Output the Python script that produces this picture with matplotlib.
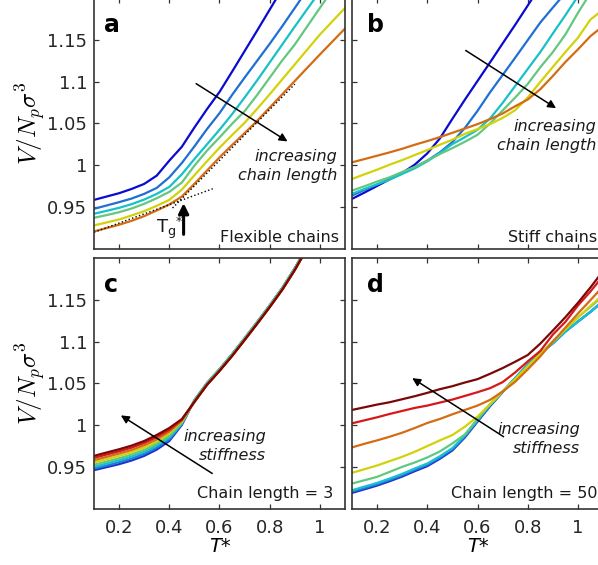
import numpy as np
import matplotlib
matplotlib.use('Agg')
import matplotlib.pyplot as plt

nan = np.nan

# reduced temperature grid shared by all panels
T = [0.1, 0.15, 0.2, 0.25, 0.3, 0.35, 0.4, 0.45, 0.5, 0.55, 0.6,
     0.65, 0.7, 0.75, 0.8, 0.85, 0.9, 0.95, 1.0, 1.05, 1.1]

# (a) flexible chains, shortest -> longest
flex_1 = [.9587, .9627, .9667, .9718, .9778, .9877, 1.0056, 1.0222, 1.0452, 1.0671, 1.0877,
          1.1119, 1.1365, 1.1611, 1.1861, 1.211, nan, nan, nan, nan, nan]
flex_2 = [.948, .952, .956, .9603, .9659, .973, .9857, 1.0028, 1.0226, 1.0433, 1.0623,
          1.0841, 1.1048, 1.125, 1.1452, 1.1663, 1.1881, 1.21, nan, nan, nan]
flex_3 = [.9421, .9456, .9492, .9536, .9591, .9659, .9742, .9893, 1.0075, 1.025, 1.0425,
          1.0611, 1.081, 1.1016, 1.123, 1.1444, 1.1659, 1.1869, 1.208, nan, nan]
flex_4 = [.9373, .9405, .944, .9484, .954, .9607, .9683, .9794, .9996, 1.0175, 1.0333,
          1.0496, 1.0647, 1.0841, 1.1048, 1.1254, 1.1444, 1.1663, 1.1881, 1.21, nan]
flex_5 = [.9282, .9317, .9353, .9401, .9452, .9516, .9587, .971, .9881, 1.0048, 1.021,
          1.0361, 1.0508, 1.0675, 1.0849, 1.1028, 1.1206, 1.1385, 1.1563, 1.1722, 1.1881]
flex_6 = [.921, .925, .929, .9337, .9393, .946, .9532, .9627, .9778, .9937, 1.0095,
          1.0242, 1.0385, 1.0532, 1.069, 1.0849, 1.1008, 1.1167, 1.1325, 1.148, 1.1635]

# (b) stiff chains, shortest -> longest
stiff_1 = [.9599, .9675, .9754, .9833, .9909, 1.0008, 1.0143, 1.0321, 1.0556, 1.0786, 1.1008,
           1.123, 1.1456, 1.1679, 1.1909, 1.214, nan, nan, nan, nan, nan]
stiff_2 = [.9639, .9706, .977, .9837, .9909, .998, 1.0056, 1.0155, 1.0278, 1.0448, 1.0651,
           1.0873, 1.1079, 1.1286, 1.1496, 1.1706, 1.1885, 1.206, nan, nan, nan]
stiff_3 = [.9659, .9718, .9774, .9829, .9897, .9964, 1.0048, 1.0147, 1.0254, 1.0337, 1.0425,
           1.056, 1.0746, 1.0948, 1.1151, 1.1353, 1.1575, 1.1794, 1.202, nan, nan]
stiff_4 = [.9698, .975, .9806, .9857, .9921, .998, 1.0056, 1.0135, 1.0206, 1.0282, 1.0365,
           1.05, 1.0655, 1.081, 1.0972, 1.1171, 1.1353, 1.1563, 1.1821, 1.206, nan]
stiff_5 = [.9837, .9893, .9948, 1.0008, 1.0063, 1.0123, 1.0183, 1.0246, 1.0306, 1.0377, 1.0433,
           1.0492, 1.0567, 1.0659, 1.081, 1.0996, 1.1175, 1.1353, 1.1524, 1.1742, 1.1861]
stiff_6 = [1.0036, 1.0075, 1.0115, 1.0155, 1.0198, 1.0246, 1.029, 1.0337, 1.0389, 1.044, 1.0492,
           1.0552, 1.0619, 1.0706, 1.0786, 1.0909, 1.1067, 1.1234, 1.1385, 1.1544, 1.1663]

# (c) chain length 3, least -> most stiff
n3_1 = [.9464, .95, .9536, .958, .9635, .971, .9813, 1.0004, 1.03, 1.0504, 1.0671,
        1.0849, 1.104, 1.1234, 1.1433, 1.1641, 1.1877, 1.214, nan, nan, nan]
n3_2 = [.9484, .952, .956, .9603, .9659, .9734, .9833, 1.0012, 1.03, 1.0504, 1.0671,
        1.0849, 1.104, 1.1234, 1.1433, 1.1641, 1.1877, 1.214, nan, nan, nan]
n3_3 = [.9504, .9544, .9583, .9627, .9683, .9758, .9853, 1.002, 1.03, 1.0504, 1.0671,
        1.0849, 1.104, 1.1234, 1.1433, 1.1641, 1.1877, 1.214, nan, nan, nan]
n3_4 = [.9528, .9567, .9607, .9651, .9706, .9782, .9877, 1.0032, 1.03, 1.0504, 1.0671,
        1.0849, 1.104, 1.1234, 1.1433, 1.1641, 1.1877, 1.214, nan, nan, nan]
n3_5 = [.9556, .9595, .9635, .9679, .9734, .9806, .9901, 1.0044, 1.028, 1.0484, 1.0651,
        1.0829, 1.102, 1.1214, 1.1413, 1.1621, 1.1857, 1.212, nan, nan, nan]
n3_6 = [.9583, .9623, .9663, .9706, .9762, .9833, .9925, 1.0056, 1.028, 1.0484, 1.0651,
        1.0829, 1.102, 1.1214, 1.1413, 1.1621, 1.1857, 1.212, nan, nan, nan]
n3_7 = [.9611, .9651, .969, .9734, .979, .9861, .9948, 1.0067, 1.028, 1.0484, 1.0651,
        1.0829, 1.102, 1.1214, 1.1413, 1.1621, 1.1857, 1.212, nan, nan, nan]
n3_8 = [.9635, .9675, .9714, .9758, .9813, .9885, .9968, 1.0075, 1.028, 1.0484, 1.0651,
        1.0829, 1.102, 1.1214, 1.1413, 1.1621, 1.1857, 1.212, nan, nan, nan]

# (d) chain length 50, least -> most stiff
n50_1 = [.9192, .9236, .928, .9332, .9388, .9452, .9512, .96, .97, .9856, 1.0044,
         1.0228, 1.0396, 1.0564, 1.0724, 1.086, 1.098, 1.112, 1.124, 1.1356, 1.1484]
n50_2 = [.9208, .9252, .9296, .9348, .9404, .9468, .9528, .9615, .9714, .9868, 1.0054,
         1.0236, 1.04, 1.0564, 1.0724, 1.086, 1.098, 1.112, 1.124, 1.1356, 1.1484]
n50_3 = [.9224, .9268, .9312, .9364, .942, .9484, .9544, .963, .9728, .988, 1.0064,
         1.0244, 1.0404, 1.0564, 1.0724, 1.086, 1.098, 1.112, 1.124, 1.1356, 1.1484]
n50_4 = [.9304, .9344, .9384, .9444, .9504, .9556, .9616, .9688, .9784, .9892, 1.0076,
         1.0252, 1.0404, 1.0544, 1.0704, 1.0856, 1.1004, 1.1148, 1.1292, 1.1416, 1.1544]
n50_5 = [.9432, .9476, .952, .9572, .9624, .9684, .9752, .982, .9884, .9984, 1.0104,
         1.0252, 1.0404, 1.0552, 1.0704, 1.0852, 1.0996, 1.1148, 1.1288, 1.1428, 1.156]
n50_6 = [.9736, .978, .982, .9864, .9912, .9968, 1.0028, 1.0076, 1.0132, 1.0184, 1.0236,
         1.0304, 1.0404, 1.052, 1.0668, 1.0824, 1.1, 1.1168, 1.1336, 1.1496, 1.166]
n50_7 = [1.0024, 1.006, 1.0096, 1.0136, 1.0172, 1.0208, 1.0236, 1.0272, 1.0308, 1.0352, 1.0396,
         1.0444, 1.0516, 1.0632, 1.0764, 1.0888, 1.1084, 1.1236, 1.1432, 1.16, 1.1784]
n50_8 = [1.0184, 1.0216, 1.0248, 1.0276, 1.0312, 1.0348, 1.0388, 1.0432, 1.0468, 1.0512, 1.0552,
         1.0616, 1.0684, 1.076, 1.084, 1.0976, 1.1132, 1.1292, 1.1464, 1.1648, 1.1844]

# glassy / melt tangent lines used to locate Tg in (a)
glass_fit_T, glass_fit_V = [0.1, 0.573], [0.92, 0.972]
melt_fit_T, melt_fit_V = [0.413, 0.9], [0.949, 1.097]
tg_T = 0.457

cols6 = ['#0a0ad2', '#1f6fd4', '#18c0c8', '#62c880', '#d2d20a', '#d46c14']
cols8 = ['#1f2fd0', '#1f7fd8', '#18c0d0', '#60c880', '#d2d20a', '#d46c14', '#d81818', '#7a0808']

yticks = [0.95, 1.0, 1.05, 1.1, 1.15]
ytick_labels = ['0.95', '1', '1.05', '1.1', '1.15']
xticks = [0.2, 0.4, 0.6, 0.8, 1.0]
xtick_labels = ['0.2', '0.4', '0.6', '0.8', '1']

W, H = 598, 565
fig = plt.figure(figsize=(W / 100, H / 100), dpi=100)

def px_axes(left, top, w=251, h=251):
    return fig.add_axes([left / W, (H - top - h) / H, w / W, h / H])

ax_a = px_axes(94, -2)
ax_b = px_axes(352, -2)
ax_c = px_axes(94, 258)
ax_d = px_axes(352, 258)

for ax in (ax_a, ax_b, ax_c, ax_d):
    ax.set_xlim(0.1, 1.1)
    ax.set_ylim(0.9, 1.2)
    ax.set_xticks(xticks)
    ax.set_yticks(yticks)
    ax.tick_params(direction='in', top=True, right=True, length=3.5, width=0.9,
                   color='#333333', labelcolor='#262626', labelsize=13)
    ax.tick_params(axis='y', pad=5)
    ax.tick_params(axis='x', pad=7)
    for s in ax.spines.values():
        s.set_linewidth(1.2)
        s.set_color('#333333')

for ax in (ax_a, ax_b):
    ax.set_xticklabels([])
for ax in (ax_b, ax_d):
    ax.set_yticklabels([])
for ax in (ax_a, ax_c):
    ax.set_yticklabels(ytick_labels)
    ax.set_ylabel(r'$V/N_p\sigma^3$', fontsize=18, math_fontfamily='cm', labelpad=-1)
for ax in (ax_c, ax_d):
    ax.set_xticklabels(xtick_labels)
    ax.set_xlabel('T*', fontsize=14, style='italic', labelpad=0)

lw = 1.6
for v, c in zip([flex_1, flex_2, flex_3, flex_4, flex_5, flex_6], cols6):
    ax_a.plot(T, v, color=c, lw=lw)
for v, c in zip([stiff_1, stiff_2, stiff_3, stiff_4, stiff_5, stiff_6], cols6):
    ax_b.plot(T, v, color=c, lw=lw)
for v, c in zip([n3_1, n3_2, n3_3, n3_4, n3_5, n3_6, n3_7, n3_8], cols8):
    ax_c.plot(T, v, color=c, lw=lw)
for v, c in zip([n50_1, n50_2, n50_3, n50_4, n50_5, n50_6, n50_7, n50_8], cols8):
    ax_d.plot(T, v, color=c, lw=lw)

# Tg construction
ax_a.plot(glass_fit_T, glass_fit_V, ':', color='k', lw=1.0)
ax_a.plot(melt_fit_T, melt_fit_V, ':', color='k', lw=1.0)
ax_a.annotate('', xy=(tg_T, 0.9548), xytext=(tg_T, 0.9175),
              arrowprops=dict(arrowstyle='-|>', color='k', lw=2.2, mutation_scale=15,
                              shrinkA=0, shrinkB=0))
ax_a.text(0.347, 0.9195, r'T$_\mathregular{g}$$^\mathregular{*}$', fontsize=13,
          ha='left', va='baseline', color='#1a1a1a')

def trend(ax, tail, head):
    ax.annotate('', xy=head, xytext=tail,
                arrowprops=dict(arrowstyle='-|>', color='k', lw=1.1, mutation_scale=12,
                                shrinkA=0, shrinkB=0))

trend(ax_a, (0.507, 1.0976), (0.871, 1.0286))
trend(ax_b, (0.553, 1.1373), (0.913, 1.0683))
trend(ax_c, (0.571, 0.9425), (0.207, 1.0119))
trend(ax_d, (0.704, 0.9864), (0.34, 1.0564))

def label(ax, x, y, s, **kw):
    ax.text(x, y, s, transform=ax.transAxes, fontsize=11.5, color='#1a1a1a',
            va='baseline', **kw)

# multi-line labels are placed by the baseline of their last line
label(ax_a, 0.968, 0.275, 'increasing\nchain length', ha='right', style='italic', linespacing=1.35)
label(ax_b, 0.972, 0.394, 'increasing\nchain length', ha='right', style='italic', linespacing=1.35)
label(ax_c, 0.685, 0.195, 'increasing\nstiffness', ha='right', style='italic', linespacing=1.35)
label(ax_d, 0.908, 0.224, 'increasing\nstiffness', ha='right', style='italic', linespacing=1.35)

label(ax_a, 0.976, 0.028, 'Flexible chains', ha='right')
label(ax_b, 0.976, 0.028, 'Stiff chains', ha='right')
label(ax_c, 0.952, 0.044, 'Chain length = 3', ha='right')
label(ax_d, 0.980, 0.044, 'Chain length = 50', ha='right')

for ax, letter, x in [(ax_a, 'a', 0.04), (ax_b, 'b', 0.058), (ax_c, 'c', 0.04), (ax_d, 'd', 0.058)]:
    ax.text(x, 0.865, letter, transform=ax.transAxes, fontsize=17, fontweight='bold',
            va='baseline', ha='left', color='k')

fig.savefig('out.png', dpi=100)
